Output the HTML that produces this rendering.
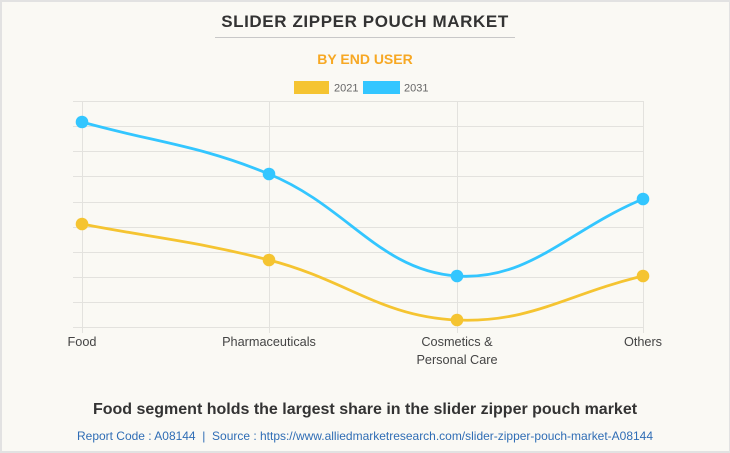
<!DOCTYPE html>
<html><head><meta charset="utf-8"><style>
html,body{margin:0;padding:0;}
body{width:730px;height:453px;overflow:hidden;background:#faf9f4;font-family:"Liberation Sans",Arial,sans-serif;}
.frame{position:absolute;left:0;top:0;width:730px;height:453px;box-sizing:border-box;border:2px solid #e2e2e2;border-right-width:1px;background:#faf9f4;}
svg{position:absolute;left:0;top:0;}
</style></head><body>
<div class="frame"></div>
<svg width="730" height="453" viewBox="0 0 730 453" xmlns="http://www.w3.org/2000/svg">
  <text x="365" y="27" text-anchor="middle" font-family="Liberation Sans, Arial, sans-serif" font-weight="bold" font-size="17" fill="#333" letter-spacing="0.6">SLIDER ZIPPER POUCH MARKET</text>
  <line x1="215" y1="37.5" x2="515" y2="37.5" stroke="#c8c8c8" stroke-width="1"/>
  <text x="365" y="64" text-anchor="middle" font-family="Liberation Sans, Arial, sans-serif" font-weight="bold" font-size="14" fill="#f7a823">BY END USER</text>
  <rect x="294" y="81" width="35" height="13" fill="#f5c431"/>
  <text x="334" y="91.5" font-family="Liberation Sans, Arial, sans-serif" font-size="11" fill="#666">2021</text>
  <rect x="363" y="81" width="37" height="13" fill="#33c6ff"/>
  <text x="404" y="91.5" font-family="Liberation Sans, Arial, sans-serif" font-size="11" fill="#666">2031</text>
  <g stroke="#e3e2de" stroke-width="1">
    <line x1="73" y1="101.5" x2="643" y2="101.5"/>
    <line x1="73" y1="126.5" x2="643" y2="126.5"/>
    <line x1="73" y1="151.5" x2="643" y2="151.5"/>
    <line x1="73" y1="176.5" x2="643" y2="176.5"/>
    <line x1="73" y1="202.5" x2="643" y2="202.5"/>
    <line x1="73" y1="227.5" x2="643" y2="227.5"/>
    <line x1="73" y1="252.5" x2="643" y2="252.5"/>
    <line x1="73" y1="277.5" x2="643" y2="277.5"/>
    <line x1="73" y1="302.5" x2="643" y2="302.5"/>
    <line x1="73" y1="327.5" x2="643" y2="327.5"/>
    <line x1="82.5" y1="101" x2="82.5" y2="333"/>
    <line x1="269.5" y1="101" x2="269.5" y2="333"/>
    <line x1="457.5" y1="101" x2="457.5" y2="333"/>
    <line x1="643.5" y1="101" x2="643.5" y2="333"/>
  </g>
  <path d="M82,224 C156.8,238.4 195.3,241.1 269,260 C345.4,279.5 381,316.75 457,320 C530.6,323.15 568.6,293.6 643,276" fill="none" stroke="#f5c431" stroke-width="2.8"/>
  <path d="M82,122 C156.8,142.8 197.6,144.7 269,174 C347.6,206.3 380,270.85 457,276 C529.6,280.85 568.6,229.8 643,199" fill="none" stroke="#33c6ff" stroke-width="2.8"/>
  <g fill="#f5c431">
    <circle cx="82" cy="224" r="6.3"/><circle cx="269" cy="260" r="6.3"/><circle cx="457" cy="320" r="6.3"/><circle cx="643" cy="276" r="6.3"/>
  </g>
  <g fill="#33c6ff">
    <circle cx="82" cy="122" r="6.3"/><circle cx="269" cy="174" r="6.3"/><circle cx="457" cy="276" r="6.3"/><circle cx="643" cy="199" r="6.3"/>
  </g>
  <g font-family="Liberation Sans, Arial, sans-serif" font-size="12.7" fill="#444" text-anchor="middle">
    <text x="82" y="346">Food</text>
    <text x="269" y="346">Pharmaceuticals</text>
    <text x="457" y="346">Cosmetics &amp;</text>
    <text x="457" y="364">Personal Care</text>
    <text x="643" y="346">Others</text>
  </g>
  <text x="365" y="414" text-anchor="middle" font-family="Liberation Sans, Arial, sans-serif" font-weight="bold" font-size="16" fill="#333">Food segment holds the largest share in the slider zipper pouch market</text>
  <text x="365" y="440" text-anchor="middle" font-family="Liberation Sans, Arial, sans-serif" font-size="12" fill="#2f6db5" textLength="576" lengthAdjust="spacingAndGlyphs">Report Code : A08144&#160;&#160;|&#160;&#160;Source : https://www.alliedmarketresearch.com/slider-zipper-pouch-market-A08144</text>
</svg>
</body></html>
